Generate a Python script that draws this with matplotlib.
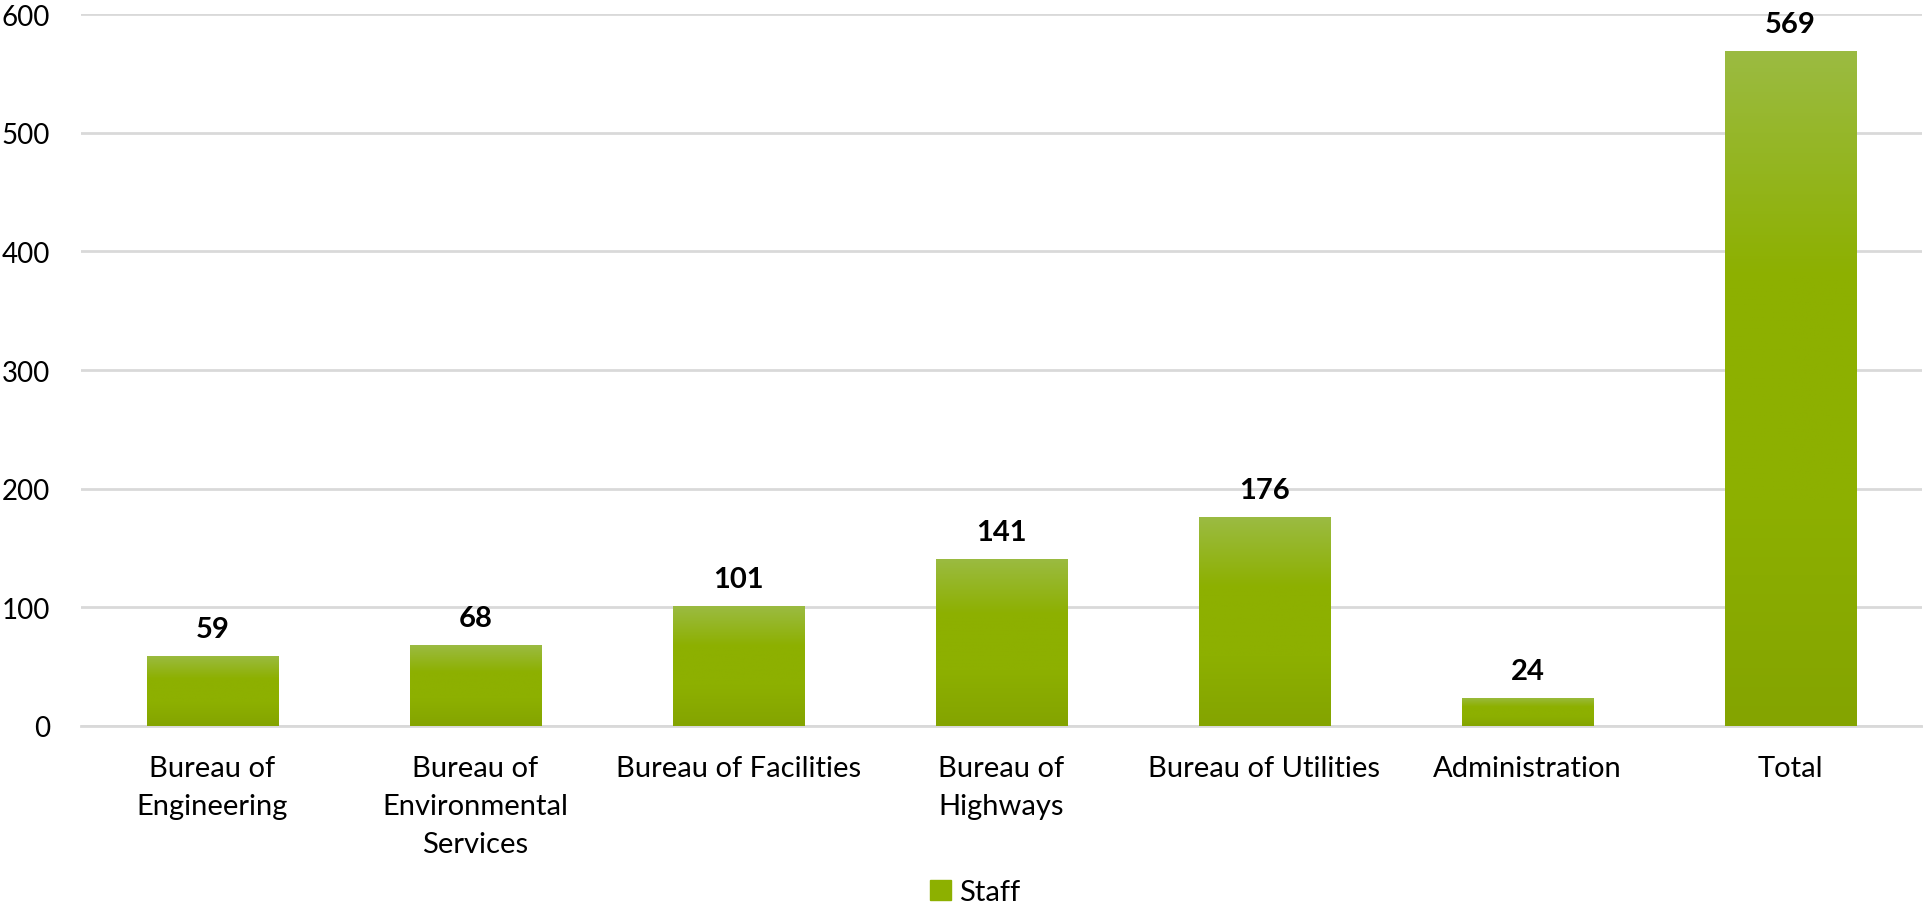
import numpy as np
import matplotlib
matplotlib.use('Agg')
import matplotlib.pyplot as plt
from matplotlib.colors import LinearSegmentedColormap
from matplotlib.patches import Patch

# Chart data
categories = ['Bureau of\nEngineering', 'Bureau of\nEnvironmental\nServices', 'Bureau of Facilities',
              'Bureau of\nHighways', 'Bureau of Utilities', 'Administration', 'Total']
staff = [59, 68, 101, 141, 176, 24, 569]
y_ticks = [0, 100, 200, 300, 400, 500, 600]

plt.rcParams['font.family'] = ['Lato', 'DejaVu Sans']

fig = plt.figure(figsize=(19.24, 9.229), dpi=100)
ax = fig.add_axes([0.042, 0.2123, 0.957, 0.7714])

x = np.arange(len(categories))
bars = ax.bar(x, staff, width=0.5, color='#8DB000', zorder=2)

# gradient fill: lighter at the top, darker at the bottom
cmap = LinearSegmentedColormap.from_list('grn', ['#84A400', '#8DB000', '#8DB000', '#9BBB42'])
grad = np.linspace(0, 1, 256).reshape(-1, 1)
for b in bars:
    bx, by, bw, bh = b.get_x(), b.get_y(), b.get_width(), b.get_height()
    im = ax.imshow(grad, cmap=cmap, aspect='auto', origin='lower',
                   extent=[bx, bx + bw, by, by + bh], zorder=3)
    im.set_clip_path(b)

# value labels
for xi, v in zip(x, staff):
    ax.annotate(str(v), (xi, v), xytext=(0, 10), textcoords='offset points',
                ha='center', va='bottom', fontsize=21, fontweight='bold', color='black')

ax.set_xlim(-0.5, len(categories) - 0.5)
ax.set_ylim(0, 600)
ax.set_yticks(y_ticks)
ax.set_xticks(x)
ax.set_xticklabels(categories, fontsize=21, linespacing=1.58)
ax.tick_params(axis='y', length=0, pad=22, labelsize=20)
ax.tick_params(axis='x', length=0, pad=21)
ax.grid(axis='y', color='#D9D9D9', linewidth=2, zorder=0)
for s in ['top', 'right', 'left']:
    ax.spines[s].set_visible(False)
ax.spines['bottom'].set_color('#D9D9D9')
ax.spines['bottom'].set_linewidth(2)

fig.legend(handles=[Patch(color='#8DB000', label='Staff')], loc='lower center',
           bbox_to_anchor=(0.507, -0.01), frameon=False, fontsize=21,
           handlelength=0.7, handleheight=0.7, handletextpad=0.3)

fig.savefig('out.png', dpi=100)
